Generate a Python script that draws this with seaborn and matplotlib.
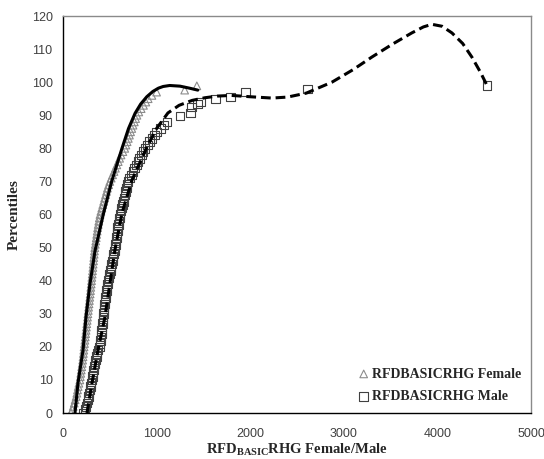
import numpy as np
import pandas as pd
import matplotlib
matplotlib.use('Agg')
import matplotlib.pyplot as plt
import seaborn as sns

# female points (RFD basic RHG, percentile)
female_x = [85, 100, 110, 120, 130, 140, 148, 155, 162, 170, 180,
            185, 190, 195, 200, 205, 210, 214, 218, 222, 225,
            230, 234, 238, 242, 246, 250, 254, 258, 262, 266,
            270, 274, 278, 282, 286, 290, 294, 297, 301, 305,
            308, 312, 315, 319, 322, 326, 329, 333, 336, 340,
            345, 350, 355, 360, 365, 370, 376, 382, 388, 395,
            405, 415, 425, 435, 445, 455, 465, 475, 488, 500,
            515, 530, 545, 560, 575, 590, 605, 620, 640, 660,
            672, 685, 698, 710, 722, 735, 748, 762, 776, 790,
            810, 835, 860, 885, 910, 950, 1000, 1300, 1430]
female_y = [0, 1, 2, 3, 4, 5, 6, 7, 8, 9, 10,
            11, 12, 13, 14, 15, 16, 17, 18, 19, 20,
            21, 22, 23, 24, 25, 26, 27, 28, 29, 30,
            31, 32, 33, 34, 35, 36, 37, 38, 39, 40,
            41, 42, 43, 44, 45, 46, 47, 48, 49, 50,
            51, 52, 53, 54, 55, 56, 57, 58, 59, 60,
            61, 62, 63, 64, 65, 66, 67, 68, 69, 70,
            71, 72, 73, 74, 75, 76, 77, 78, 79, 80,
            81, 82, 83, 84, 85, 86, 87, 88, 89, 90,
            91, 92, 93, 94, 95, 96, 97, 97.6, 98.9]

# male points
male_x = [220, 235, 245, 255, 265, 270, 280, 290, 295, 300, 310,
          315, 320, 325, 330, 340, 345, 355, 365, 375, 390,
          395, 400, 405, 410, 414, 418, 422, 426, 428, 432,
          436, 440, 445, 450, 455, 460, 465, 470, 475, 482,
          490, 497, 505, 512, 520, 527, 535, 542, 548, 555,
          560, 565, 570, 575, 580, 585, 590, 597, 603, 610,
          620, 628, 636, 645, 653, 661, 670, 678, 686, 695,
          712, 730, 748, 766, 784, 802, 820, 838, 856, 875,
          900, 925, 950, 975, 1000, 1040, 1080, 1110,
          1250, 1365, 1375, 1440, 1470, 1630, 1790, 1950, 2610, 4530]
male_y = [0, 1, 2, 3, 4, 5, 6, 7, 8, 9, 10,
          11, 12, 13, 14, 15, 16, 17, 18, 19, 20,
          21, 22, 23, 24, 25, 26, 27, 28, 29, 30,
          31, 32, 33, 34, 35, 36, 37, 38, 39, 40,
          41, 42, 43, 44, 45, 46, 47, 48, 49, 50,
          51, 52, 53, 54, 55, 56, 57, 58, 59, 60,
          61, 62, 63, 64, 65, 66, 67, 68, 69, 70,
          71, 72, 73, 74, 75, 76, 77, 78, 79, 80,
          81, 82, 83, 84, 85, 86, 87, 88,
          89.8, 90.7, 92.5, 93.4, 94, 94.9, 95.5, 97, 97.9, 99]

# trend lines
female_trend_x = [128, 160, 214, 246, 288, 342, 430, 520, 630, 700, 770, 830, 895, 960, 1020,
                  1070, 1140, 1250, 1350, 1440]
female_trend_y = [0, 9, 19, 29, 39, 49, 60, 70, 80, 86, 90.6, 93.4, 95.6, 97.2, 98.2,
                  98.7, 99, 98.8, 98.2, 97.6]
male_trend_x = [256, 310, 374, 448, 502, 555, 630, 737, 897, 1000, 1121, 1240, 1380, 1517, 1650,
                1800, 2000, 2232, 2400, 2600, 2873, 3100, 3300, 3520, 3727, 3850, 3941, 4050,
                4155, 4270, 4368, 4460, 4530]
male_trend_y = [0, 9.1, 19, 29, 39.3, 49.3, 60.4, 70.4, 80.4, 86, 90.7, 93, 94.5, 95.3, 95.8,
                96, 95.6, 95.2, 95.5, 96.7, 100, 103.8, 107.6, 111.5, 114.9, 116.7, 117.5, 116.9,
                114.9, 111.7, 107.6, 103, 99]

pts_f = pd.DataFrame({'x': female_x, 'y': female_y})
pts_m = pd.DataFrame({'x': male_x, 'y': male_y})
tr_f = pd.DataFrame({'x': female_trend_x, 'y': female_trend_y})
tr_m = pd.DataFrame({'x': male_trend_x, 'y': male_trend_y})

sns.set_style('white')
plt.rcParams['mathtext.fontset'] = 'custom'
plt.rcParams['mathtext.rm'] = 'Liberation Serif:bold'
plt.rcParams['mathtext.bf'] = 'Liberation Serif:bold'

fig = plt.figure(figsize=(5.44, 4.59), dpi=100)
ax = fig.add_axes([0.1158, 0.1002, 0.8603, 0.8649])

sns.scatterplot(data=pts_f, x='x', y='y', marker='^', s=30, facecolor='none',
                edgecolor='#8c8c8c', linewidth=0.8, ax=ax, label='RFDBASICRHG Female', zorder=2)
sns.scatterplot(data=pts_m, x='x', y='y', marker='s', s=38, facecolor='none',
                edgecolor='#404040', linewidth=0.8, ax=ax, label='RFDBASICRHG Male', zorder=2)
sns.lineplot(data=tr_f, x='x', y='y', sort=False, estimator=None, color='black',
             linewidth=2.2, ax=ax, legend=False, zorder=3)
sns.lineplot(data=tr_m, x='x', y='y', sort=False, estimator=None, color='black',
             linewidth=2.2, ax=ax, legend=False, zorder=3)
ax.lines[-1].set_dashes((3.2, 1.6))

ax.set_xlim(0, 5000)
ax.set_ylim(0, 120)
ax.set_xticks([0, 1000, 2000, 3000, 4000, 5000])
ax.set_yticks(range(0, 121, 10))
ax.tick_params(axis='both', direction='out', length=4, width=0.8, colors='black',
               labelcolor='#404040', labelsize=9)
ax.tick_params(axis='x', pad=7)
for lab in ax.get_xticklabels() + ax.get_yticklabels():
    lab.set_family('Liberation Sans')

for s in ['left', 'bottom']:
    ax.spines[s].set_color('black')
    ax.spines[s].set_linewidth(1.0)
for s in ['top', 'right']:
    ax.spines[s].set_color('#8a8a8a')
    ax.spines[s].set_linewidth(1.0)

ax.set_ylabel('Percentiles', fontsize=11, fontweight='bold', family='Liberation Serif', labelpad=8)
ax.set_xlabel(r'RFD$_{\mathrm{BASIC}}$RHG Female/Male', fontsize=10.5, fontweight='bold',
              family='Liberation Serif', labelpad=1)

leg = ax.legend(loc='lower right', frameon=False, handletextpad=0.1, handlelength=1.0,
                prop={'family': 'Liberation Serif', 'weight': 'bold', 'size': 10},
                borderaxespad=0.3, labelspacing=0.7)

fig.savefig('out.png', dpi=100)
